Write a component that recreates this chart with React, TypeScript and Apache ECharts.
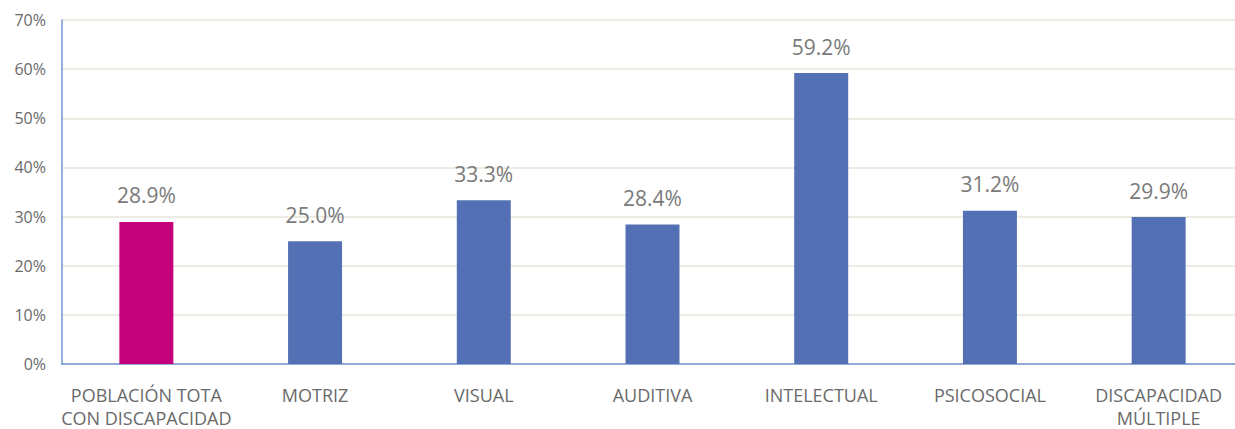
import React, { useEffect, useRef } from "react";
import * as echarts from "echarts";

const categories = [
  "POBLACIÓN TOTA\nCON DISCAPACIDAD",
  "MOTRIZ",
  "VISUAL",
  "AUDITIVA",
  "INTELECTUAL",
  "PSICOSOCIAL",
  "DISCAPACIDAD\nMÚLTIPLE",
];
const values = [28.9, 25.0, 33.3, 28.4, 59.2, 31.2, 29.9];
const highlightIndex = 0;
const yTicks = [0, 10, 20, 30, 40, 50, 60, 70];

export default function App() {
  const ref = useRef<HTMLDivElement>(null);
  useEffect(() => {
    const chart = echarts.init(ref.current!, null, { renderer: "svg" });
    chart.setOption({
      animation: false,
      textStyle: { fontFamily: "Open Sans" },
      grid: {
        left: 62,
        right: -8,
        top: 20,
        bottom: 65,
        containLabel: false,
        outerBoundsMode: "none",
      },
      xAxis: {
        type: "category",
        data: categories,
        axisLine: { lineStyle: { color: "#7595d3", width: 1.5 } },
        axisTick: { show: false },
        axisLabel: {
          color: "#6a6a6a",
          fontSize: 18,
          lineHeight: 22.5,
          margin: 20,
          interval: 0,
        },
      },
      yAxis: {
        type: "value",
        min: yTicks[0],
        max: yTicks[yTicks.length - 1],
        interval: 10,
        axisLine: { show: true, lineStyle: { color: "#7595d3", width: 1.5 } },
        axisTick: { show: false },
        splitLine: { lineStyle: { color: "#e9e5dc", width: 1.5 } },
        axisLabel: {
          color: "#6a6a6a",
          fontSize: 16,
          margin: 16,
          formatter: (v: number) => `${v}%`,
        },
      },
      series: [
        {
          type: "bar",
          barWidth: "32%",
          data: values.map((v, i) => ({
            value: v,
            itemStyle: { color: i === highlightIndex ? "#c4007a" : "#5470b4" },
          })),
          label: {
            show: true,
            position: "top",
            distance: 16,
            color: "#7a7a7a",
            fontSize: 21,
            formatter: (p: any) => `${p.value.toFixed(1)}%`,
          },
        },
      ],
    });
    return () => chart.dispose();
  }, []);
  return (
    <div
      ref={ref}
      style={{ position: "absolute", left: 0, top: 0, width: 1235, height: 429 }}
    />
  );
}
